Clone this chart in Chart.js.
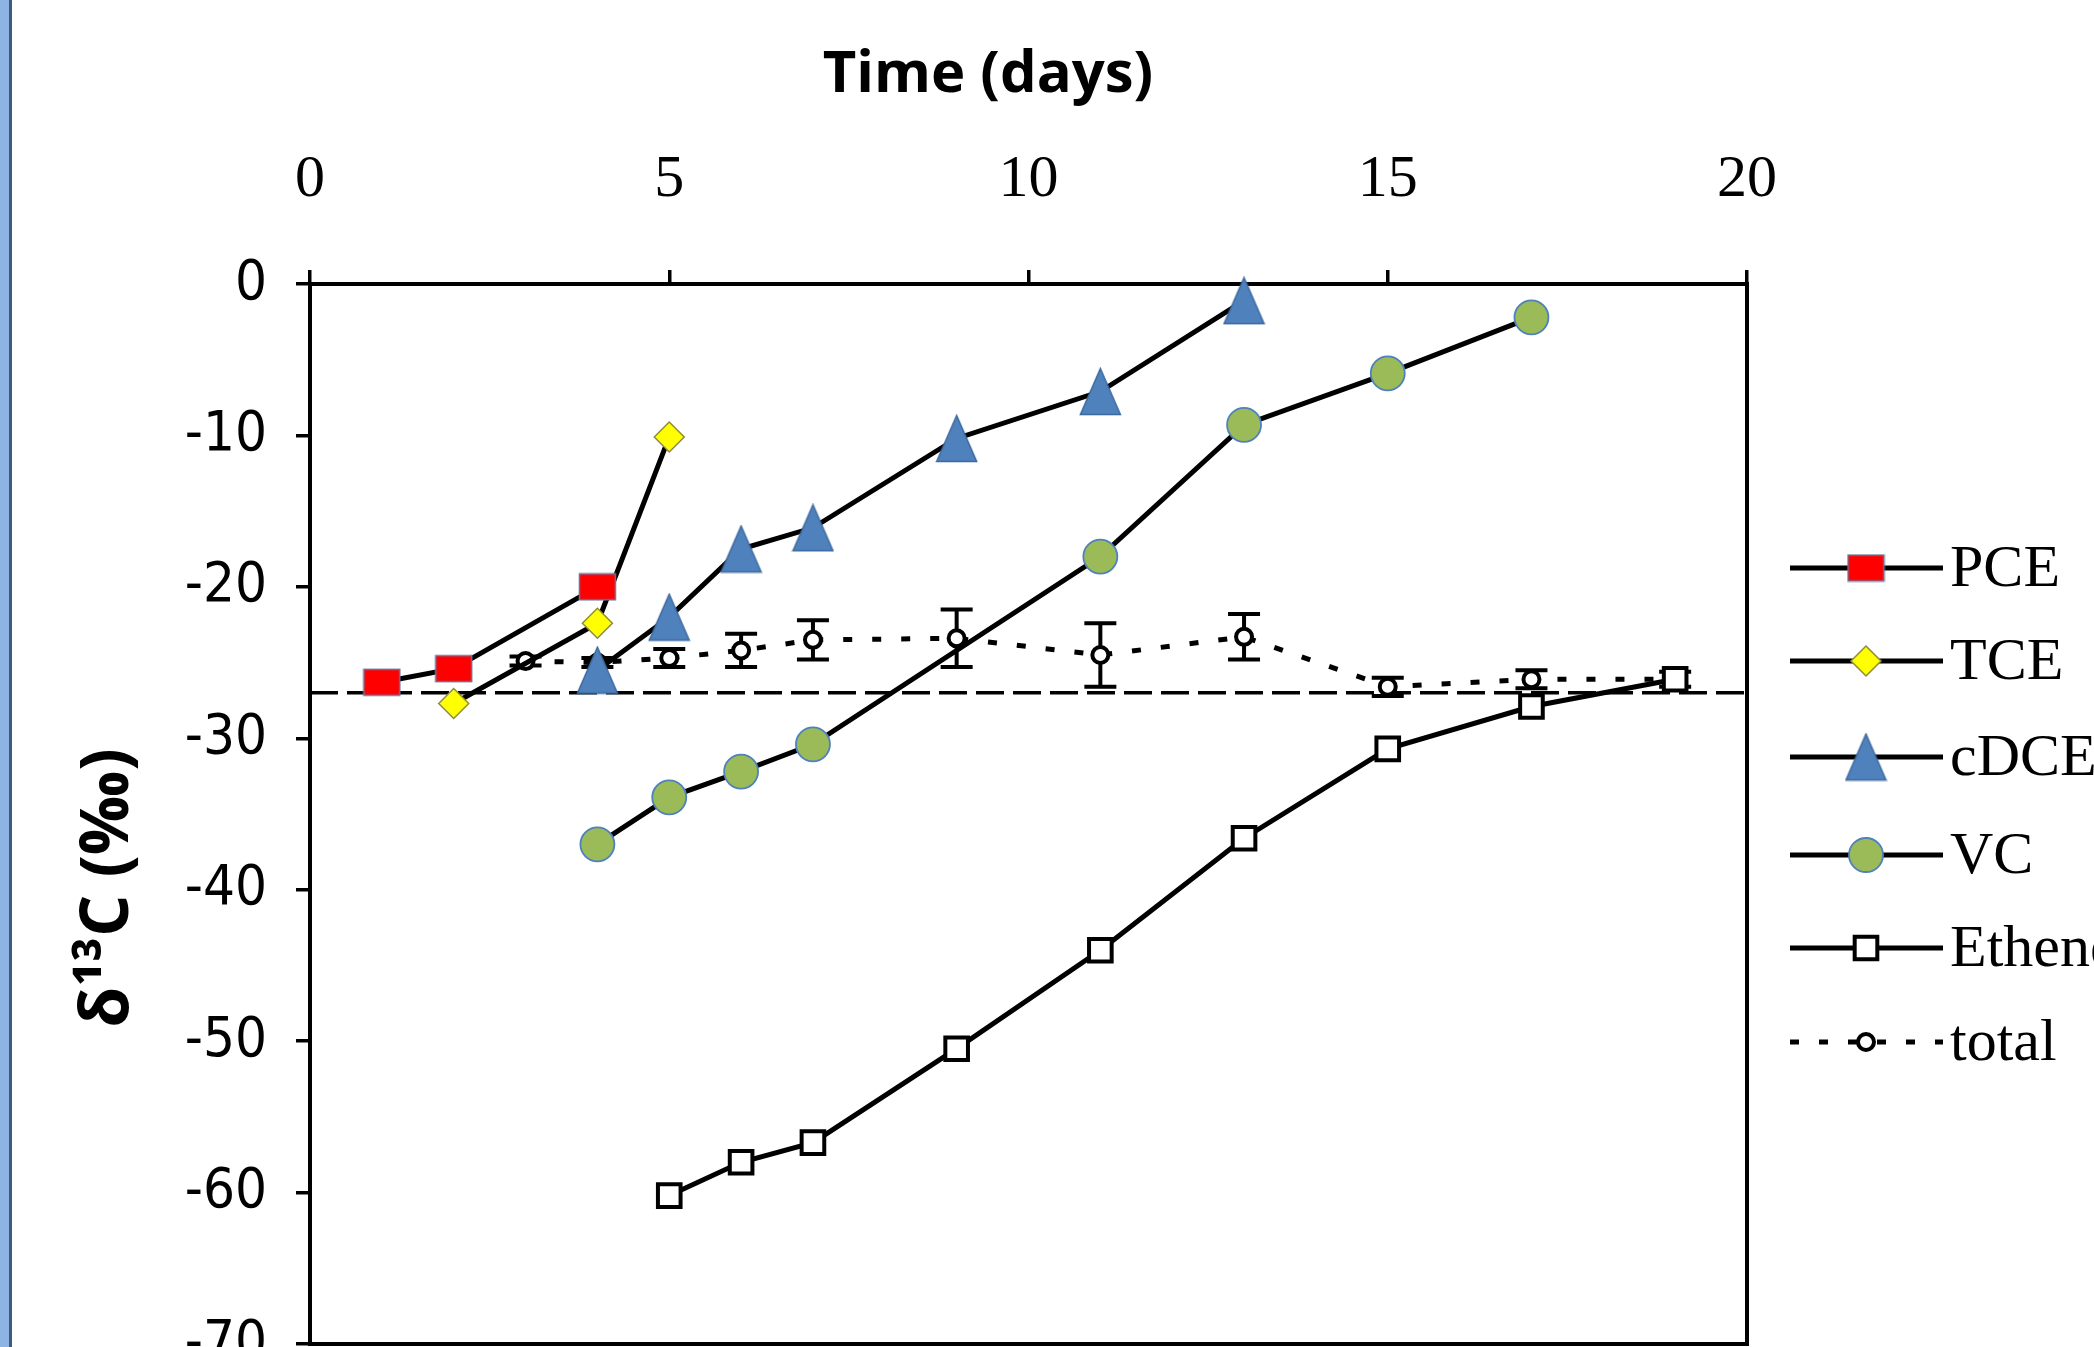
<!DOCTYPE html>
<html>
<head>
<meta charset="utf-8">
<title>δ13C vs time</title>
<script src="https://cdn.jsdelivr.net/npm/chart.js@4.4.0/dist/chart.umd.min.js"></script>
<style>
  html, body { margin: 0; padding: 0; background: #fff; overflow: hidden; }
  #wrap { position: relative; width: 2094px; height: 1347px; overflow: hidden; }
  #edge { position: absolute; left: 0; top: 0; width: 9px; height: 1347px; background: #8db4e2; border-right: 3px solid #41597a; }
  canvas { display: block; }
</style>
</head>
<body>
<div id="wrap">
  <!-- canvas runs a bit past the page bottom so the -70 line sits at the very edge -->
  <canvas id="chart" width="2094" height="1371"></canvas>
  <div id="edge"></div>
</div>
<script>
// tick values
const xTicks = [0, 5, 10, 15, 20];
const yTicks = [0, -10, -20, -30, -40, -50, -60, -70];

// series (days, delta13C in permil)
const pceDays = [1, 2, 4];
const pceVals = [-26.3, -25.4, -20.0];
const tceDays = [2, 4, 5];
const tceVals = [-27.7, -22.4, -10.1];
const cdceDays = [4, 5, 6, 7, 9, 11, 13];
const cdceVals = [-25.5, -22.0, -17.5, -16.1, -10.2, -7.1, -1.1];
const vcDays = [4, 5, 6, 7, 11, 13, 15, 17];
const vcVals = [-37.0, -33.9, -32.2, -30.4, -18.0, -9.3, -5.9, -2.2];
const etheneDays = [5, 6, 7, 9, 11, 13, 15, 17, 19];
const etheneVals = [-60.2, -58.0, -56.7, -50.5, -44.0, -36.6, -30.7, -27.9, -26.1];
const totalDays = [3, 4, 5, 6, 7, 9, 11, 13, 15, 17, 19];
const totalVals = [-24.9, -25.0, -24.7, -24.2, -23.5, -23.4, -24.5, -23.3, -26.6, -26.1, -26.1];
const totalErr = [0.3, 0.3, 0.6, 1.1, 1.3, 1.9, 2.1, 1.5, 0.6, 0.6, 0.5];
// initial value reference line
const refDays = [0, 20];
const refVals = [-27, -27];

function pts(days, vals) {
    return days.map((d, i) => ({ x: d, y: vals[i] }));
}

// custom markers (the scanned ones are not square / equilateral)
function makeMarker(w, h, fill, stroke, lw, shape) {
    const c = document.createElement('canvas');
    c.width = w + lw * 2;
    c.height = h + lw * 2;
    const g = c.getContext('2d');
    g.fillStyle = fill;
    g.strokeStyle = stroke;
    g.lineWidth = lw;
    g.beginPath();
    if (shape === 'rect') {
        g.rect(lw, lw, w, h);
    } else {
        g.moveTo(lw + w / 2, lw);
        g.lineTo(lw + w, lw + h);
        g.lineTo(lw, lw + h);
        g.closePath();
    }
    g.fill();
    g.stroke();
    return c;
}

const redRect = makeMarker(36, 26, '#ff0000', '#6a78a0', 1.5, 'rect');
const blueTri = makeMarker(40, 46, '#4f81bd', '#3d6a9e', 1.5, 'tri');

const datasets = [
    {
        label: 'PCE', data: pts(pceDays, pceVals),
        pointStyle: redRect, pointRadius: 18,
        borderColor: '#000', borderWidth: 5
    },
    {
        label: 'TCE', data: pts(tceDays, tceVals),
        pointStyle: 'rectRot', pointRadius: 15,
        pointBackgroundColor: '#ffff00', pointBorderColor: '#8c8c3c', pointBorderWidth: 1.5,
        borderColor: '#000', borderWidth: 5
    },
    {
        label: 'cDCE', data: pts(cdceDays, cdceVals),
        pointStyle: blueTri, pointRadius: 22,
        borderColor: '#000', borderWidth: 5
    },
    {
        label: 'VC', data: pts(vcDays, vcVals),
        pointStyle: 'circle', pointRadius: 17,
        pointBackgroundColor: '#9bbb59', pointBorderColor: '#4f81bd', pointBorderWidth: 1.8,
        borderColor: '#000', borderWidth: 5
    },
    {
        label: 'Ethene', data: pts(etheneDays, etheneVals),
        pointStyle: 'rect', pointRadius: 16,
        pointBackgroundColor: '#fff', pointBorderColor: '#000', pointBorderWidth: 4,
        borderColor: '#000', borderWidth: 5
    },
    {
        label: 'total', data: pts(totalDays, totalVals),
        pointStyle: 'circle', pointRadius: 8,
        pointBackgroundColor: '#fff', pointBorderColor: '#000', pointBorderWidth: 4,
        borderColor: '#000', borderWidth: 5, borderDash: [9, 20]
    },
    {
        label: 'ref', data: pts(refDays, refVals),
        pointRadius: 0.01, pointStyle: false,
        borderColor: '#000', borderWidth: 3.5, borderDash: [28, 9]
    }
];
datasets.forEach(ds => { ds.showLine = true; ds.clip = false; ds.tension = 0; });

const legendRows = [568, 661, 757, 855, 948, 1042];

const framePlugin = {
    id: 'frame',
    beforeDatasetsDraw(chart) {
        const { ctx, chartArea: a, scales } = chart;
        ctx.save();
        ctx.strokeStyle = '#000';
        ctx.lineWidth = 4;
        ctx.strokeRect(a.left, a.top, a.right - a.left, a.bottom - a.top);
        // error bars on total
        ctx.lineWidth = 4;
        totalDays.forEach((d, i) => {
            const x = scales.x.getPixelForValue(d);
            const y1 = scales.y.getPixelForValue(totalVals[i] + totalErr[i]);
            const y2 = scales.y.getPixelForValue(totalVals[i] - totalErr[i]);
            ctx.beginPath();
            ctx.moveTo(x, y1); ctx.lineTo(x, y2);
            ctx.moveTo(x - 16, y1); ctx.lineTo(x + 16, y1);
            ctx.moveTo(x - 16, y2); ctx.lineTo(x + 16, y2);
            ctx.stroke();
        });
        ctx.restore();
    },
    afterDraw(chart) {
        const ctx = chart.ctx;
        ctx.save();
        ctx.fillStyle = '#000';
        // axis titles
        ctx.font = 'bold 58px "Open Sans", sans-serif';
        ctx.textAlign = 'center';
        ctx.textBaseline = 'alphabetic';
        ctx.fillText('Time (days)', 988, 92);
        ctx.save();
        ctx.translate(128, 888);
        ctx.rotate(-Math.PI / 2);
        ctx.font = 'bold 66px "Open Sans", sans-serif';
        ctx.fillText('δ¹³C (‰)', 0, 0);
        ctx.restore();
        // legend: line with marker in the middle
        chart.data.datasets.slice(0, 6).forEach((ds, i) => {
            const y = legendRows[i];
            ctx.save();
            ctx.strokeStyle = ds.borderColor;
            ctx.lineWidth = ds.borderWidth;
            ctx.setLineDash(ds.borderDash || []);
            ctx.beginPath();
            ctx.moveTo(1790, y);
            ctx.lineTo(1943, y);
            ctx.stroke();
            ctx.setLineDash([]);
            ctx.fillStyle = ds.pointBackgroundColor || '#000';
            ctx.strokeStyle = ds.pointBorderColor || '#000';
            ctx.lineWidth = ds.pointBorderWidth || 1;
            Chart.helpers.drawPoint(ctx, { pointStyle: ds.pointStyle, radius: ds.pointRadius, rotation: 0, borderWidth: ds.pointBorderWidth || 1 }, 1866, y);
            ctx.restore();
            ctx.font = '60px "Liberation Serif", "Times New Roman", serif';
            ctx.textAlign = 'left';
            ctx.textBaseline = 'middle';
            ctx.fillText(ds.label, 1950, y + 2);
        });
        ctx.restore();
    }
};

new Chart(document.getElementById('chart'), {
    type: 'scatter',
    data: { datasets: datasets },
    options: {
        responsive: false,
        animation: false,
        events: [],
        layout: { padding: { left: 0, top: 0, right: 347, bottom: 5 } },
        plugins: { legend: { display: false }, tooltip: { enabled: false } },
        scales: {
            x: {
                type: 'linear', position: 'top', min: 0, max: 20,
                afterBuildTicks: s => { s.ticks = xTicks.map(v => ({ value: v })); },
                afterFit: s => { s.height = 284; s.paddingLeft = 0; s.paddingRight = 0; },
                border: { display: false },
                grid: { drawOnChartArea: false, drawTicks: true, tickLength: 14, color: '#000', lineWidth: 3.5 },
                ticks: {
                    color: '#000', padding: 54, maxRotation: 0, autoSkip: false,
                    font: { family: '"Liberation Serif", "Times New Roman", serif', size: 60 },
                    callback: v => String(v)
                }
            },
            y: {
                type: 'linear', min: -70, max: 0,
                afterBuildTicks: s => { s.ticks = yTicks.map(v => ({ value: v })); },
                afterFit: s => { s.width = 310; s.paddingTop = 0; s.paddingBottom = 0; },
                border: { display: false },
                grid: { drawOnChartArea: false, drawTicks: true, tickLength: 14, color: '#000', lineWidth: 3.5 },
                ticks: {
                    color: '#000', padding: 29, autoSkip: false,
                    font: { family: '"DejaVu Sans Condensed", "Liberation Sans Narrow", "DejaVu Sans", sans-serif', size: 56 },
                    callback: v => String(v)
                }
            }
        }
    },
    plugins: [framePlugin]
});
</script>
</body>
</html>
